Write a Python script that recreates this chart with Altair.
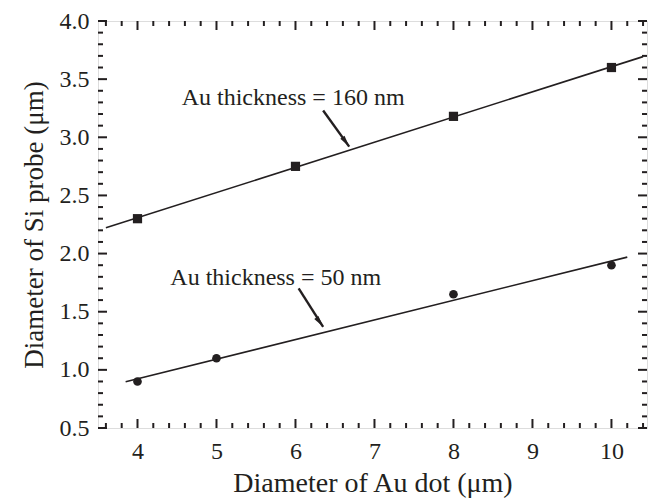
import altair as alt
import pandas as pd

# ---- data ----
dot_160 = [4, 6, 8, 10]
probe_160 = [2.30, 2.75, 3.18, 3.60]
dot_50 = [4, 5, 8, 10]
probe_50 = [0.90, 1.10, 1.65, 1.90]
fit_extent_160 = [3.6, 10.4]
fit_extent_50 = [3.85, 10.2]

x_major = [4, 5, 6, 7, 8, 9, 10]
x_minor = [3.6, 3.8, 4.2, 4.4, 4.6, 4.8, 5.2, 5.4, 5.6, 5.8, 6.2, 6.4, 6.6, 6.8,
           7.2, 7.4, 7.6, 7.8, 8.2, 8.4, 8.6, 8.8, 9.2, 9.4, 9.6, 9.8, 10.2, 10.4]
y_major = [0.5, 1.0, 1.5, 2.0, 2.5, 3.0, 3.5, 4.0]
y_minor = [0.6, 0.7, 0.8, 0.9, 1.1, 1.2, 1.3, 1.4, 1.6, 1.7, 1.8, 1.9, 2.1, 2.2,
           2.3, 2.4, 2.6, 2.7, 2.8, 2.9, 3.1, 3.2, 3.3, 3.4, 3.6, 3.7, 3.8, 3.9]

labels = ["Au thickness = 160 nm", "Au thickness = 50 nm"]
label_x = [5.97, 5.75]
label_y = [3.28, 1.73]
arrow_x = [6.35, 6.04]
arrow_y = [3.23, 1.70]
arrow_x2 = [6.68, 6.35]
arrow_y2 = [2.92, 1.37]

W, H = 549, 407
FONT = "Liberation Serif"
INK = "#231f20"

xs = alt.Scale(domain=[3.5, 10.45], nice=False, zero=False)
ys = alt.Scale(domain=[0.5, 4.0], nice=False, zero=False)
X_AX = alt.Axis(values=x_major, format="d", tickSize=0, domain=False, grid=False,
                labelFontSize=24, labelPadding=11, labelColor=INK, labelFont=FONT,
                title="Diameter of Au dot (μm)", titleFontSize=28, titleFont=FONT,
                titleFontWeight="normal", titlePadding=6, titleColor=INK)
Y_AX = alt.Axis(values=y_major, format=".1f", tickSize=0, domain=False, grid=False,
                labelFontSize=24, labelPadding=9, labelColor=INK, labelFont=FONT,
                title="Diameter of Si probe (μm)", titleFontSize=27, titleFont=FONT,
                titleFontWeight="normal", titlePadding=11, titleColor=INK)

def X(field="x"):
    return alt.X(f"{field}:Q", scale=xs, axis=X_AX)

def Y(field="y"):
    return alt.Y(f"{field}:Q", scale=ys, axis=Y_AX)

d160 = pd.DataFrame({"x": dot_160, "y": probe_160})
d50 = pd.DataFrame({"x": dot_50, "y": probe_50})

fit160 = alt.Chart(d160).transform_regression("x", "y", extent=fit_extent_160).mark_line(
    color=INK, strokeWidth=1.6).encode(x=X(), y=Y())
fit50 = alt.Chart(d50).transform_regression("x", "y", extent=fit_extent_50).mark_line(
    color=INK, strokeWidth=1.6).encode(x=X(), y=Y())

pts160 = alt.Chart(d160).mark_point(shape="square", filled=True, size=85, opacity=1,
                                    color=INK).encode(x=X(), y=Y())
pts50 = alt.Chart(d50).mark_point(shape="circle", filled=True, size=75, opacity=1,
                                  color=INK).encode(x=X(), y=Y())

ann = pd.DataFrame({"t": labels, "x": label_x, "y": label_y})
text = alt.Chart(ann).mark_text(font=FONT, fontSize=24, align="center",
                                baseline="alphabetic", color=INK).encode(
    x=X(), y=Y(), text="t:N")

arr = pd.DataFrame({"x": arrow_x, "y": arrow_y, "x2": arrow_x2, "y2": arrow_y2})
shaft = alt.Chart(arr).mark_rule(color=INK, strokeWidth=2.4).encode(
    x=X(), y=Y(), x2="x2:Q", y2="y2:Q")
head = alt.Chart(arr).mark_point(shape="M0,0L0.5,2.2L-0.5,2.2Z", filled=True, size=110,
                                 angle=144, opacity=1, color=INK).encode(
    x=X("x2"), y=Y("y2"))

def xticks(vals, length):
    df = pd.DataFrame({"x": vals})
    b = alt.Chart(df).mark_rule(color=INK, strokeWidth=2).encode(
        x=X(), y=alt.value(H), y2=alt.value(H - length))
    t = alt.Chart(df).mark_rule(color=INK, strokeWidth=2).encode(
        x=X(), y=alt.value(0), y2=alt.value(length))
    return [b, t]

def yticks(vals, length):
    df = pd.DataFrame({"y": vals})
    l = alt.Chart(df).mark_rule(color=INK, strokeWidth=2).encode(
        y=Y(), x=alt.value(0), x2=alt.value(length))
    r = alt.Chart(df).mark_rule(color=INK, strokeWidth=2).encode(
        y=Y(), x=alt.value(W), x2=alt.value(W - length))
    return [l, r]

layers = (xticks(x_major, 9) + xticks(x_minor, 5) + yticks(y_major, 9) + yticks(y_minor, 5)
          + [fit160, fit50, pts160, pts50, shaft, head, text])

chart = alt.layer(*layers).properties(
    width=W, height=H,
    autosize=alt.AutoSizeParams(type="none"),
    padding={"left": 98, "top": 21, "right": 9, "bottom": 71},
).configure_view(stroke=INK, strokeWidth=2).configure(
    font=FONT, background="white")

chart.save("out.html", embed_options={"renderer": "svg", "actions": False})
